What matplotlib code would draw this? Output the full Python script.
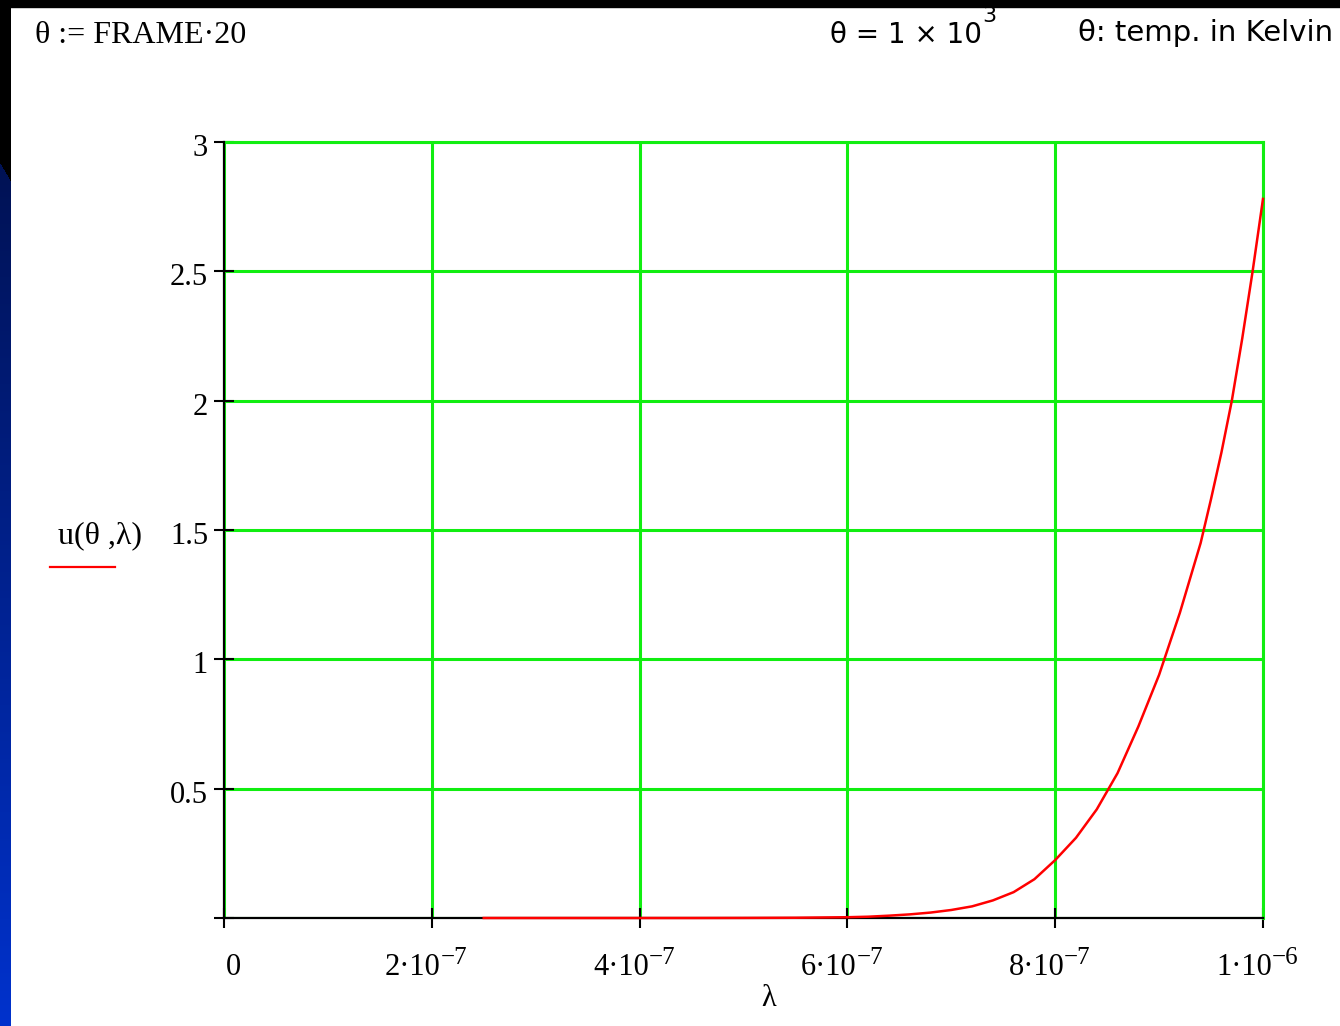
import numpy as np
import matplotlib
matplotlib.use("Agg")
import matplotlib.pyplot as plt
from matplotlib.patches import Rectangle
from matplotlib.lines import Line2D
from matplotlib.text import Annotation

# ---------------- data ----------------
wavelength = np.array([2.5, 3.0, 3.5, 4.0, 4.5, 5.0, 5.5, 6.0, 6.2, 6.4, 6.6, 6.8,
                       7.0, 7.2, 7.4, 7.6, 7.8, 8.0, 8.2, 8.4, 8.6, 8.8, 9.0,
                       9.2, 9.4, 9.5, 9.6, 9.7, 9.8, 9.9, 10.0]) * 1e-7
energy_density = np.array([0.0, 0.0, 0.0, 0.0, 0.0, 0.0003, 0.001, 0.003, 0.005, 0.009,
                           0.014, 0.021, 0.031, 0.045, 0.068, 0.10, 0.150, 0.224,
                           0.31, 0.42, 0.56, 0.74, 0.94, 1.18, 1.45, 1.62, 1.80,
                           2.00, 2.24, 2.50, 2.78])

x_ticks = [0.0, 2e-7, 4e-7, 6e-7, 8e-7, 1e-6]
x_tick_base = ["0", "2·10", "4·10", "6·10", "8·10", "1·10"]
x_tick_exp = ["", "−7", "−7", "−7", "−7", "−6"]
y_ticks = [0.0, 0.5, 1.0, 1.5, 2.0, 2.5, 3.0]
y_tick_labels = ["", "0.5", "1", "1.5", "2", "2.5", "3"]

# ---------------- figure ----------------
W, H = 1340, 1026
fig = plt.figure(figsize=(W / 100, H / 100), dpi=100, facecolor="white")

SERIF = ["Liberation Serif", "DejaVu Serif"]
SANS = ["DejaVu Sans"]
GREEN = "#11ee11"

# left decorative strip (black -> navy -> blue gradient)
strip_w = 11
strip = np.zeros((H, strip_w, 3))
for yy in range(H):
    t = max(0.0, (yy - 170) / (H - 170))
    col = np.array([0.0, 18 + 32 * t, 85 + 120 * t]) / 255.0
    for xx in range(strip_w):
        boundary = 163 + 17 * xx / (strip_w - 1)
        strip[yy, xx] = col if yy > boundary else 0.0
sax = fig.add_axes([0, 0, strip_w / W, 1])
sax.imshow(strip, aspect="auto", interpolation="nearest")
sax.axis("off")

# top black strip
fig.add_artist(Rectangle((0, 1 - 7 / H), 1, 7 / H, transform=fig.transFigure,
                         color="black", zorder=10))

# main axes
ax = fig.add_axes([224 / W, 1 - 918 / H, (1263 - 224) / W, (918 - 142) / H])
ax.set_xlim(0, 1e-6)
ax.set_ylim(0, 3)
ax.set_xticks(x_ticks)
ax.set_yticks(y_ticks)
ax.set_xticklabels([])
ax.set_yticklabels([])
ax.grid(True, color=GREEN, lw=2.2)
ax.tick_params(direction="inout", length=15, width=1.5, color="black",
               labelbottom=False, labelleft=False)
for s in ("left", "bottom"):
    ax.spines[s].set_color("black")
    ax.spines[s].set_linewidth(1.6)
    ax.spines[s].set_zorder(3)
for s in ("top", "right"):
    ax.spines[s].set_color(GREEN)
    ax.spines[s].set_linewidth(2.2)

ax.plot(wavelength, energy_density, color="red", lw=1.8, zorder=4, clip_on=False)

# x tick labels (base + superscript exponent)
xtrans = ax.get_xaxis_transform()
for xv, base, ex in zip(x_ticks, x_tick_base, x_tick_exp):
    if ex == "":
        ax.annotate(base, xy=(xv, 0), xycoords=xtrans, xytext=(7, -41),
                    textcoords="offset points", ha="center", va="baseline",
                    fontsize=22, family=SERIF)
    else:
        bt = ax.annotate(base, xy=(xv, 0), xycoords=xtrans, xytext=(6.5, -41),
                         textcoords="offset points", ha="right", va="baseline",
                         fontsize=22, family=SERIF)
        ax.annotate(ex, xy=(1, 1), xycoords=bt, xytext=(0, -8),
                    textcoords="offset points", ha="left", va="baseline",
                    fontsize=18, family=SERIF)

# y tick labels
ytrans = ax.get_yaxis_transform()
for yv, lab in zip(y_ticks, y_tick_labels):
    if lab:
        ax.annotate(lab, xy=(0, yv), xycoords=ytrans, xytext=(-11.5, -10),
                    textcoords="offset points", ha="right", va="baseline",
                    fontsize=22, family=SERIF)

# axis labels
ax.annotate("λ", xy=(0.5, 0), xycoords="axes fraction", xytext=(18, -63),
            textcoords="offset points", ha="center", va="baseline",
            fontsize=22, family=SERIF)
fig.text(100 / W, 1 - 543 / H, "u(θ ,λ)", ha="center", va="baseline",
         fontsize=23, family=SERIF)
fig.add_artist(Line2D([50 / W, 115 / W], [1 - 567 / H, 1 - 567 / H],
                      transform=fig.transFigure, color="red", lw=1.6))

# header texts
fig.text(35 / W, 1 - 43 / H, "θ := FRAME·20", ha="left", va="baseline",
         fontsize=23, family=SERIF)
t10 = fig.text(830 / W, 1 - 43 / H, "θ = 1 × 10", ha="left", va="baseline",
               fontsize=20, family=SANS)
fig.add_artist(Annotation("3", xy=(1, 1), xycoords=t10, xytext=(0, -1),
                          textcoords="offset points", ha="left", va="baseline",
                          fontsize=16, family=SANS))
fig.text(1078 / W, 1 - 41 / H, "θ: temp. in Kelvin", ha="left", va="baseline",
         fontsize=21, family=SANS)

fig.savefig("out.png", dpi=100, facecolor="white")
